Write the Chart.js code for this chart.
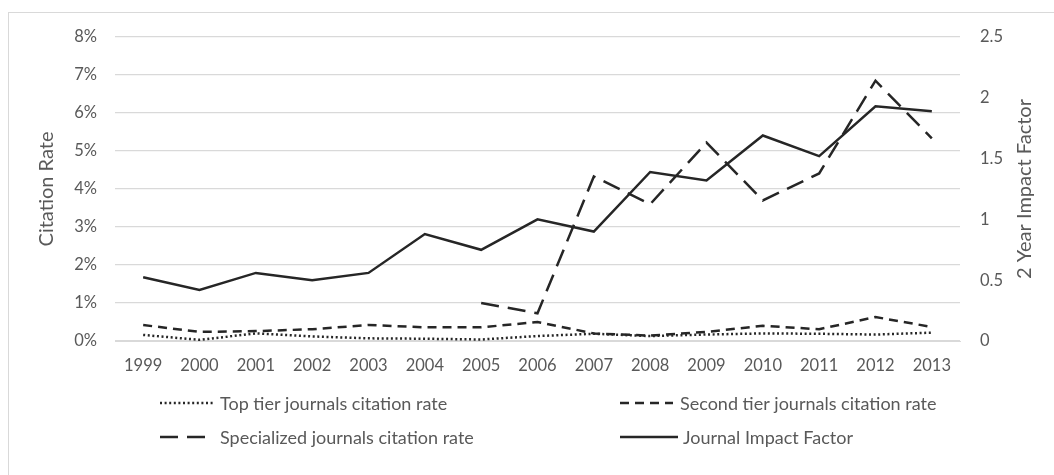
<!DOCTYPE html>
<html>
<head>
<meta charset="utf-8">
<script src="https://cdn.jsdelivr.net/npm/chart.js@4"></script>
<style>
  html, body { margin: 0; padding: 0; background: #fff; }
  #wrap { position: relative; width: 1054px; height: 475px; overflow: hidden; }
  #frame { position: absolute; left: 8px; top: 12px; width: 1200px; height: 600px;
           border-left: 1px solid #d9d9d9; border-top: 1px solid #d9d9d9; }
  #chart { position: absolute; left: 0; top: 0; }
</style>
</head>
<body>
<div id="wrap">
  <div id="frame"></div>
  <canvas id="chart" width="1054" height="475"></canvas>
</div>
<script>
/* ---------------------------------------------------------
   Data
--------------------------------------------------------- */
const years = ["1999", "2000", "2001", "2002", "2003", "2004", "2005", "2006",
               "2007", "2008", "2009", "2010", "2011", "2012", "2013"];

// citation rates in %
const topTier = [0.16, 0.03, 0.20, 0.12, 0.07, 0.06, 0.04, 0.13, 0.19, 0.13, 0.17, 0.20, 0.19, 0.17, 0.22];
const secondTier = [0.42, 0.24, 0.26, 0.31, 0.42, 0.36, 0.36, 0.50, 0.20, 0.14, 0.24, 0.40, 0.31, 0.63, 0.37];
const specialized = [null, null, null, null, null, null, 1.0, 0.73, 4.33, 3.6, 5.22, 3.7, 4.41, 6.85, 5.33];

// 2 year impact factor
const impactFactor = [0.525, 0.42, 0.56, 0.50, 0.56, 0.88, 0.75, 1.00, 0.90, 1.39, 1.32, 1.69, 1.52, 1.93, 1.89];

const seriesLabels = [
  "Top tier journals citation rate",
  "Second tier journals citation rate",
  "Specialized journals citation rate",
  "Journal Impact Factor",
];
const leftTitle = "Citation Rate";
const rightTitle = "2 Year Impact Factor";

const LINE = "#262626";
const GRID = "#d9d9d9";
const TEXT = "#595959";
const FONT = "Lato";

/* ---------------------------------------------------------
   2x2 legend under the chart + right axis title (reads upward)
--------------------------------------------------------- */
const gridLegend = {
  id: "gridLegend",
  afterDraw(chart) {
    const ctx = chart.ctx;
    const cols = [160, 620];
    const rows = [403, 437];
    ctx.save();
    chart.data.datasets.forEach((ds, i) => {
      const x = cols[i % 2];
      const y = rows[Math.floor(i / 2)];
      const len = i === 3 ? 58 : 53;
      ctx.beginPath();
      ctx.strokeStyle = LINE;
      ctx.lineWidth = ds.borderWidth;
      ctx.setLineDash(ds.borderDash || []);
      ctx.moveTo(x, y);
      ctx.lineTo(x + len, y);
      ctx.stroke();
      ctx.setLineDash([]);
      ctx.fillStyle = TEXT;
      ctx.font = `18px ${FONT}`;
      ctx.textBaseline = "middle";
      ctx.fillText(ds.label, x + len + (i === 3 ? 5 : 7), y + 1);
    });

    // right axis title, rotated like the left one
    const area = chart.chartArea;
    ctx.translate(1025, (area.top + area.bottom) / 2);
    ctx.rotate(-Math.PI / 2);
    ctx.font = `20px ${FONT}`;
    ctx.textAlign = "center";
    ctx.textBaseline = "middle";
    ctx.fillText(rightTitle, 0, 0);
    ctx.restore();
  },
};

new Chart(document.getElementById("chart").getContext("2d"), {
  type: "line",
  data: {
    labels: years,
    datasets: [
      {
        label: seriesLabels[0],
        data: topTier,
        yAxisID: "y",
        borderColor: LINE,
        borderWidth: 2.5,
        borderDash: [2, 2.6],
        pointRadius: 0,
      },
      {
        label: seriesLabels[1],
        data: secondTier,
        yAxisID: "y",
        borderColor: LINE,
        borderWidth: 2.5,
        borderDash: [9, 6],
        pointRadius: 0,
      },
      {
        label: seriesLabels[2],
        data: specialized,
        yAxisID: "y",
        borderColor: LINE,
        borderWidth: 2.5,
        borderDash: [18, 9],
        pointRadius: 0,
        spanGaps: false,
      },
      {
        label: seriesLabels[3],
        data: impactFactor,
        yAxisID: "y1",
        borderColor: LINE,
        borderWidth: 2.5,
        pointRadius: 0,
      },
    ],
  },
  options: {
    responsive: false,
    animation: false,
    layout: { padding: { top: 37, bottom: 100, left: 0, right: 0 } },
    plugins: {
      legend: { display: false },
      tooltip: { enabled: false },
    },
    scales: {
      x: {
        offset: true,
        grid: { display: false },
        border: { color: GRID },
        ticks: { color: TEXT, font: { family: FONT, size: 16.5 }, padding: 7, maxRotation: 0 },
        afterFit: (s) => { s.height = 34; },
      },
      y: {
        position: "left",
        min: 0,
        max: 8,
        grid: { color: GRID, drawTicks: false, lineWidth: 1.2 },
        border: { display: false },
        ticks: {
          stepSize: 1,
          color: TEXT,
          padding: 18,
          font: { family: FONT, size: 16.5 },
          callback: (v) => v + "%",
        },
        title: {
          display: true,
          text: leftTitle,
          color: TEXT,
          font: { family: FONT, size: 20 },
          padding: { top: 35, bottom: 0 },
        },
        afterFit: (s) => { s.width = 115; },
      },
      y1: {
        position: "right",
        min: 0,
        max: 2.5,
        grid: { display: false, drawTicks: false },
        border: { display: false },
        ticks: {
          stepSize: 0.5,
          color: TEXT,
          padding: 20,
          font: { family: FONT, size: 16.5 },
          callback: (v) => String(Number(v)),
        },
        afterFit: (s) => { s.width = 94; },
      },
    },
  },
  plugins: [gridLegend],
});
</script>
</body>
</html>
